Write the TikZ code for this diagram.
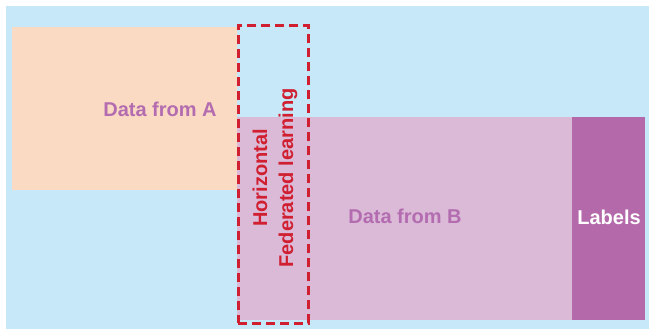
\documentclass[tikz,border=0pt]{standalone}
\usepackage{fontspec}
\setmainfont{Liberation Sans}
\definecolor{bgblue}{HTML}{C6E8F8}
\definecolor{boxA}{HTML}{FADAC3}
\definecolor{boxB}{HTML}{DBBAD8}
\definecolor{lab}{HTML}{B46AAA}
\definecolor{txtp}{HTML}{B36CB0}
\definecolor{fedred}{HTML}{D01F30}
\begin{document}
\begin{tikzpicture}[x=1pt,y=-1pt,
  lbl/.style={font=\fontsize{20}{26}\selectfont\bfseries, inner sep=0pt},
  area/.style={draw=none}]
\useasboundingbox (0,0) rectangle (649,333);
\fill[white] (0,0) rectangle (649,333);
\fill[bgblue] (6,6) rectangle (649,329);
\node[area, fill=boxA, minimum width=225pt, minimum height=163pt, anchor=north west] (A) at (12,27) {};
\node[area, fill=boxB, minimum width=335pt, minimum height=203pt, anchor=north west] (B) at (237,117) {};
\node[area, fill=lab, minimum width=73pt, minimum height=203pt, anchor=north west] (L) at (572,117) {};
\node[lbl, text=txtp] (tA) at (160,109) {Data from A};
\node[lbl, text=txtp] (tB) at (405,216) {Data from B};
\node[lbl, text=white] (tL) at (609,217) {Labels};
\node[draw=fedred, line width=2.8pt, dash pattern=on 9pt off 5pt, minimum width=70pt, minimum height=298pt, anchor=north west] (H) at (237,24) {};
\node[lbl, text=fedred, rotate=90, align=center] (tH) at (275,178) {Horizontal\\Federated learning};
\end{tikzpicture}
\end{document}
